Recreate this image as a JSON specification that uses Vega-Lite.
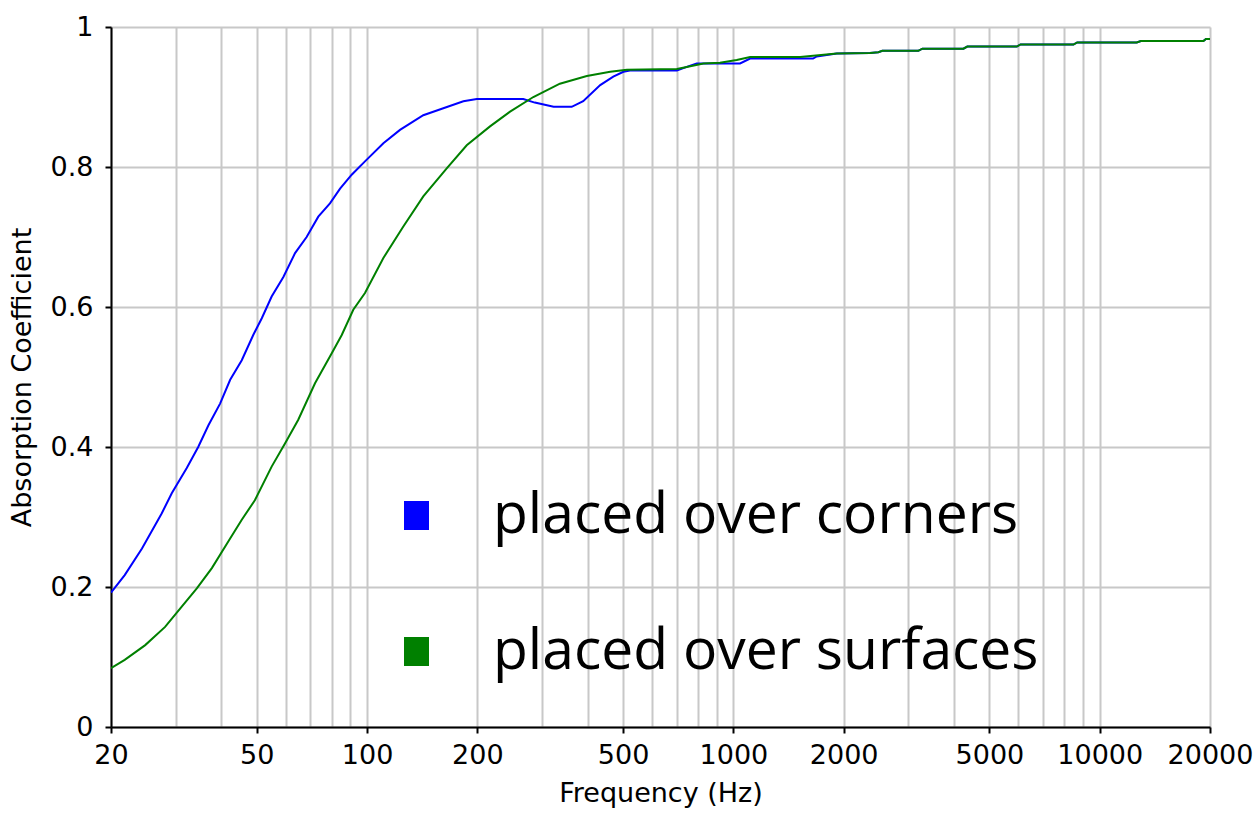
{
  "$schema": "https://vega.github.io/schema/vega-lite/v6.json",
  "width": 1099,
  "height": 700,
  "autosize": {"type": "none"},
  "padding": {"left": 111, "top": 27, "right": 49, "bottom": 95},
  "background": "white",
  "config": {
    "view": {"stroke": null},
    "axis": {
      "labelFont": "DejaVu Sans",
      "labelFontSize": 27,
      "labelColor": "black",
      "titleFont": "DejaVu Sans",
      "titleFontSize": 27,
      "titleFontWeight": "normal",
      "titleColor": "black",
      "gridColor": "#c8c8c8",
      "gridWidth": 2,
      "gridOpacity": 1,
      "domainColor": "black",
      "domainWidth": 2,
      "tickColor": "black",
      "tickWidth": 2,
      "tickSize": 6
    }
  },
  "data": {
    "values": [
      {"f": 20, "a": 0.192, "s": "placed over corners"},
      {"f": 21.8, "a": 0.217, "s": "placed over corners"},
      {"f": 24.3, "a": 0.255, "s": "placed over corners"},
      {"f": 27.5, "a": 0.305, "s": "placed over corners"},
      {"f": 29.3, "a": 0.334, "s": "placed over corners"},
      {"f": 32.2, "a": 0.37, "s": "placed over corners"},
      {"f": 34.6, "a": 0.4, "s": "placed over corners"},
      {"f": 36.9, "a": 0.431, "s": "placed over corners"},
      {"f": 39.7, "a": 0.462, "s": "placed over corners"},
      {"f": 42.3, "a": 0.496, "s": "placed over corners"},
      {"f": 45.5, "a": 0.524, "s": "placed over corners"},
      {"f": 48.9, "a": 0.56, "s": "placed over corners"},
      {"f": 51.6, "a": 0.584, "s": "placed over corners"},
      {"f": 54.9, "a": 0.615, "s": "placed over corners"},
      {"f": 59.1, "a": 0.643, "s": "placed over corners"},
      {"f": 63.6, "a": 0.677, "s": "placed over corners"},
      {"f": 68.4, "a": 0.7, "s": "placed over corners"},
      {"f": 73.6, "a": 0.729, "s": "placed over corners"},
      {"f": 79.2, "a": 0.748, "s": "placed over corners"},
      {"f": 84.4, "a": 0.769, "s": "placed over corners"},
      {"f": 90.8, "a": 0.789, "s": "placed over corners"},
      {"f": 98.7, "a": 0.808, "s": "placed over corners"},
      {"f": 110.8, "a": 0.834, "s": "placed over corners"},
      {"f": 123, "a": 0.853, "s": "placed over corners"},
      {"f": 142.4, "a": 0.874, "s": "placed over corners"},
      {"f": 161.5, "a": 0.884, "s": "placed over corners"},
      {"f": 183.2, "a": 0.894, "s": "placed over corners"},
      {"f": 199.3, "a": 0.897, "s": "placed over corners"},
      {"f": 267, "a": 0.897, "s": "placed over corners"},
      {"f": 287, "a": 0.892, "s": "placed over corners"},
      {"f": 323, "a": 0.886, "s": "placed over corners"},
      {"f": 362, "a": 0.886, "s": "placed over corners"},
      {"f": 389, "a": 0.894, "s": "placed over corners"},
      {"f": 433, "a": 0.917, "s": "placed over corners"},
      {"f": 470, "a": 0.929, "s": "placed over corners"},
      {"f": 501, "a": 0.936, "s": "placed over corners"},
      {"f": 522, "a": 0.938, "s": "placed over corners"},
      {"f": 701, "a": 0.938, "s": "placed over corners"},
      {"f": 746, "a": 0.943, "s": "placed over corners"},
      {"f": 794, "a": 0.948, "s": "placed over corners"},
      {"f": 1043, "a": 0.948, "s": "placed over corners"},
      {"f": 1111, "a": 0.955, "s": "placed over corners"},
      {"f": 1650, "a": 0.955, "s": "placed over corners"},
      {"f": 1689, "a": 0.958, "s": "placed over corners"},
      {"f": 1915, "a": 0.962, "s": "placed over corners"},
      {"f": 2360, "a": 0.963, "s": "placed over corners"},
      {"f": 2487, "a": 0.964, "s": "placed over corners"},
      {"f": 2550, "a": 0.966, "s": "placed over corners"},
      {"f": 3198, "a": 0.966, "s": "placed over corners"},
      {"f": 3280, "a": 0.969, "s": "placed over corners"},
      {"f": 4245, "a": 0.969, "s": "placed over corners"},
      {"f": 4350, "a": 0.972, "s": "placed over corners"},
      {"f": 5938, "a": 0.972, "s": "placed over corners"},
      {"f": 6080, "a": 0.975, "s": "placed over corners"},
      {"f": 8476, "a": 0.975, "s": "placed over corners"},
      {"f": 8680, "a": 0.978, "s": "placed over corners"},
      {"f": 12624, "a": 0.978, "s": "placed over corners"},
      {"f": 12950, "a": 0.98, "s": "placed over corners"},
      {"f": 19188, "a": 0.98, "s": "placed over corners"},
      {"f": 19500, "a": 0.983, "s": "placed over corners"},
      {"f": 20000, "a": 0.983, "s": "placed over corners"},
      {"f": 20, "a": 0.084, "s": "placed over surfaces"},
      {"f": 21.8, "a": 0.096, "s": "placed over surfaces"},
      {"f": 24.8, "a": 0.117, "s": "placed over surfaces"},
      {"f": 28.1, "a": 0.143, "s": "placed over surfaces"},
      {"f": 31.2, "a": 0.172, "s": "placed over surfaces"},
      {"f": 34.3, "a": 0.198, "s": "placed over surfaces"},
      {"f": 37.7, "a": 0.227, "s": "placed over surfaces"},
      {"f": 41.8, "a": 0.265, "s": "placed over surfaces"},
      {"f": 45.5, "a": 0.296, "s": "placed over surfaces"},
      {"f": 49.4, "a": 0.324, "s": "placed over surfaces"},
      {"f": 54.9, "a": 0.372, "s": "placed over surfaces"},
      {"f": 59.7, "a": 0.405, "s": "placed over surfaces"},
      {"f": 64.9, "a": 0.439, "s": "placed over surfaces"},
      {"f": 72.1, "a": 0.491, "s": "placed over surfaces"},
      {"f": 80.1, "a": 0.534, "s": "placed over surfaces"},
      {"f": 85.3, "a": 0.56, "s": "placed over surfaces"},
      {"f": 91.7, "a": 0.596, "s": "placed over surfaces"},
      {"f": 98.7, "a": 0.62, "s": "placed over surfaces"},
      {"f": 110.8, "a": 0.67, "s": "placed over surfaces"},
      {"f": 125.6, "a": 0.715, "s": "placed over surfaces"},
      {"f": 142.4, "a": 0.758, "s": "placed over surfaces"},
      {"f": 165, "a": 0.798, "s": "placed over surfaces"},
      {"f": 187.1, "a": 0.831, "s": "placed over surfaces"},
      {"f": 216.6, "a": 0.858, "s": "placed over surfaces"},
      {"f": 245.7, "a": 0.879, "s": "placed over surfaces"},
      {"f": 284.4, "a": 0.9, "s": "placed over surfaces"},
      {"f": 336, "a": 0.919, "s": "placed over surfaces"},
      {"f": 398, "a": 0.93, "s": "placed over surfaces"},
      {"f": 461, "a": 0.936, "s": "placed over surfaces"},
      {"f": 512, "a": 0.939, "s": "placed over surfaces"},
      {"f": 701, "a": 0.94, "s": "placed over surfaces"},
      {"f": 746, "a": 0.943, "s": "placed over surfaces"},
      {"f": 828, "a": 0.948, "s": "placed over surfaces"},
      {"f": 919, "a": 0.949, "s": "placed over surfaces"},
      {"f": 1021, "a": 0.953, "s": "placed over surfaces"},
      {"f": 1111, "a": 0.957, "s": "placed over surfaces"},
      {"f": 1521, "a": 0.957, "s": "placed over surfaces"},
      {"f": 1915, "a": 0.962, "s": "placed over surfaces"},
      {"f": 2360, "a": 0.963, "s": "placed over surfaces"},
      {"f": 2487, "a": 0.964, "s": "placed over surfaces"},
      {"f": 2550, "a": 0.966, "s": "placed over surfaces"},
      {"f": 3198, "a": 0.966, "s": "placed over surfaces"},
      {"f": 3280, "a": 0.969, "s": "placed over surfaces"},
      {"f": 4245, "a": 0.969, "s": "placed over surfaces"},
      {"f": 4350, "a": 0.972, "s": "placed over surfaces"},
      {"f": 5938, "a": 0.972, "s": "placed over surfaces"},
      {"f": 6080, "a": 0.975, "s": "placed over surfaces"},
      {"f": 8476, "a": 0.975, "s": "placed over surfaces"},
      {"f": 8680, "a": 0.978, "s": "placed over surfaces"},
      {"f": 12624, "a": 0.978, "s": "placed over surfaces"},
      {"f": 12950, "a": 0.98, "s": "placed over surfaces"},
      {"f": 19188, "a": 0.98, "s": "placed over surfaces"},
      {"f": 19500, "a": 0.983, "s": "placed over surfaces"},
      {"f": 20000, "a": 0.983, "s": "placed over surfaces"}
    ]
  },
  "mark": {"type": "line", "strokeWidth": 2, "clip": true},
  "encoding": {
    "x": {
      "field": "f",
      "type": "quantitative",
      "scale": {"type": "log", "domain": [20, 20000], "nice": false},
      "axis": {
        "title": "Frequency (Hz)",
        "values": [20, 30, 40, 50, 60, 70, 80, 90, 100, 200, 300, 400, 500, 600, 700, 800, 900, 1000, 2000, 3000, 4000, 5000, 6000, 7000, 8000, 9000, 10000, 20000],
        "labelExpr": "indexof([20,50,100,200,500,1000,2000,5000,10000,20000], datum.value) >= 0 ? toString(datum.value) : ''",
        "tickOpacity": {"condition": {"test": "indexof([20,50,100,200,500,1000,2000,5000,10000,20000], datum.value) >= 0", "value": 1}, "value": 0},
        "labelOverlap": false,
        "labelFlush": false,
        "labelPadding": 9,
        "titlePadding": 12
      }
    },
    "y": {
      "field": "a",
      "type": "quantitative",
      "scale": {"domain": [0, 1], "nice": false},
      "axis": {
        "title": "Absorption Coefficient",
        "values": [0, 0.2, 0.4, 0.6, 0.8, 1],
        "format": "~g",
        "labelPadding": 12,
        "titlePadding": 14
      }
    },
    "color": {
      "field": "s",
      "type": "nominal",
      "scale": {"domain": ["placed over corners", "placed over surfaces"], "range": ["#0000ff", "#008000"]},
      "legend": {
        "title": null,
        "orient": "none",
        "legendX": 277,
        "legendY": 460,
        "direction": "vertical",
        "padding": 0,
        "symbolType": "M-0.862,-1H0.862V1H-0.862Z",
        "symbolSize": 841,
        "symbolStrokeWidth": 0,
        "labelFont": "Open Sans",
        "labelFontSize": 57,
        "labelColor": "black",
        "labelLimit": 0,
        "labelOffset": 48,
        "rowPadding": 78,
        "encode": {
          "symbols": {"update": {"fill": {"scale": "color", "field": "value"}, "strokeWidth": {"value": 0}, "opacity": {"value": 1}}}
        }
      }
    }
  }
}
